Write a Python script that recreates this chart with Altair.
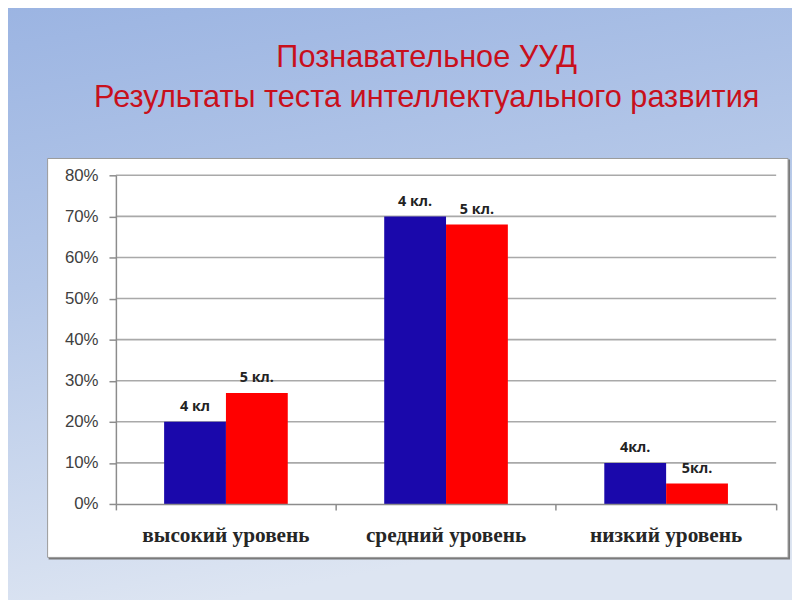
import altair as alt
import pandas as pd

# ---- data ----
categories = ["высокий уровень", "средний уровень", "низкий уровень"]
series = ["4 класс", "5 класс"]
values_4 = [0.20, 0.70, 0.10]
values_5 = [0.27, 0.68, 0.05]
labels_4 = ["4 кл", "4 кл.", "4кл."]
labels_5 = ["5 кл.", "5 кл.", "5кл."]
y_ticks = [0.0, 0.1, 0.2, 0.3, 0.4, 0.5, 0.6, 0.7, 0.8]
title_lines = ["Познавательное УУД", "Результаты теста интеллектуального развития"]

rows = []
for i, c in enumerate(categories):
    rows.append({"cat": c, "series": series[0], "value": values_4[i], "label": labels_4[i]})
    rows.append({"cat": c, "series": series[1], "value": values_5[i], "label": labels_5[i]})
df = pd.DataFrame(rows)
grid_df = pd.DataFrame({"v": y_ticks[1:]})
one = pd.DataFrame({"a": [0]})

W, H = 667, 332
PL, PT, PR, PB = 109, 166, 16, 94

BLUE = "#1a08ab"
RED = "#ff0000"

yscale = alt.Scale(domain=[0, 0.8], nice=False)
xscale = alt.Scale(domain=categories, paddingInner=0, paddingOuter=0)
xoff_scale = alt.Scale(paddingInner=0, paddingOuter=0.78)

x_axis = alt.Axis(labelAngle=0, labelFont="Liberation Serif", labelFontWeight="bold",
                  labelFontSize=21.5, labelColor="#262626", labelPadding=32,
                  labelBaseline="alphabetic", bandPosition=1, tickExtra=True,
                  tickSize=6, tickColor="#8c8c8c", domainColor="#8c8c8c",
                  domainWidth=1.5, tickWidth=1.5, grid=False, zindex=1, orient="bottom")
y_axis = alt.Axis(values=y_ticks, format=".0%", labelFont="Liberation Sans",
                  labelFontSize=17, labelColor="#404040", tickSize=7, labelPadding=11,
                  tickColor="#8c8c8c", domainColor="#8c8c8c", domainWidth=1.5,
                  tickWidth=1.5, grid=False, zindex=1, orient="left")

# background gradient covering whole page
bg = alt.Chart(one).mark_rect(
    fill=alt.Gradient(
        gradient="linear",
        stops=[alt.GradientStop(color="#9bb4e2", offset=0),
               alt.GradientStop(color="#b4c7e8", offset=0.45),
               alt.GradientStop(color="#dde5f2", offset=1)],
        x1=0, x2=0.25, y1=0, y2=1,
    ),
    clip=False,
).encode(
    x=alt.value(-PL - 8), x2=alt.value(W + PR + 8),
    y=alt.value(-PT - 8), y2=alt.value(H + PB + 8),
)

shadow = alt.Chart(one).mark_rect(fill="#7a7a7a", clip=False).encode(
    x=alt.value(48 - 117 + 1), x2=alt.value(797 - 117 + 1),
    y=alt.value(157 - 174 + 1), y2=alt.value(561 - 174 + 1),
)
box = alt.Chart(one).mark_rect(fill="white", stroke="#9a9a9a", strokeWidth=1, clip=False).encode(
    x=alt.value(48 - 117), x2=alt.value(796 - 117),
    y=alt.value(157 - 174), y2=alt.value(560 - 174),
)

grid = alt.Chart(grid_df).mark_rule(color="#a9a9a9", strokeWidth=1.6).encode(
    y=alt.Y("v:Q", scale=yscale, axis=y_axis, title=None),
    x=alt.value(0), x2=alt.value(W),
)

bars = alt.Chart(df).mark_bar().encode(
    x=alt.X("cat:N", sort=categories, scale=xscale, title=None, axis=x_axis),
    xOffset=alt.XOffset("series:N", sort=series, scale=xoff_scale),
    y=alt.Y("value:Q", scale=yscale, title=None, axis=y_axis),
    color=alt.Color("series:N", scale=alt.Scale(domain=series, range=[BLUE, RED]), legend=None),
)

texts = alt.Chart(df).mark_text(font="Open Sans", fontWeight="bold", fontSize=14.5,
                                color="#222222", baseline="alphabetic", dy=-11).encode(
    x=alt.X("cat:N", sort=categories, scale=xscale, title=None, axis=x_axis),
    xOffset=alt.XOffset("series:N", sort=series, scale=xoff_scale),
    y=alt.Y("value:Q", scale=yscale, title=None, axis=y_axis),
    text="label:N",
)

title_layers = []
for line, ypix in zip(title_lines, [65, 105]):
    title_layers.append(
        alt.Chart(pd.DataFrame({"line": [line]})).mark_text(
            font="Liberation Sans", fontSize=31, color="#c8101c",
            align="center", baseline="alphabetic", clip=False,
        ).encode(
            x=alt.value(431 - 117),
            y=alt.value(ypix - 174),
            text="line:N",
        )
    )

chart = alt.layer(bg, shadow, box, grid, bars, texts, *title_layers).properties(
    width=W, height=H,
    autosize=alt.AutoSizeParams(type="none"),
    padding={"left": PL, "top": PT, "right": PR, "bottom": PB},
).configure_view(stroke=None).configure(background="#b4c7e8")

chart.save("out.html", embed_options={"renderer": "svg", "actions": False})
